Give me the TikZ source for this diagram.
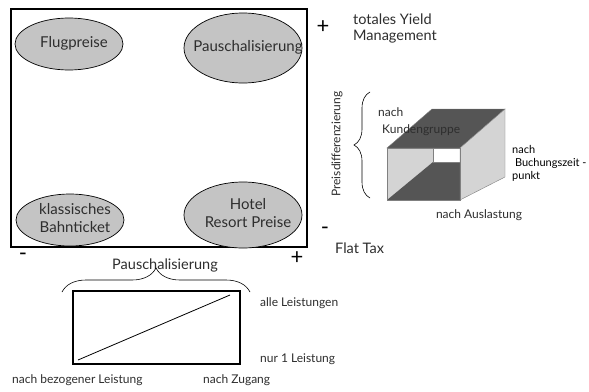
\documentclass[tikz,border=0pt]{standalone}
\usepackage{fontspec}
\setmainfont{Lato}
\usetikzlibrary{decorations.pathreplacing,shapes.geometric}
\definecolor{ellgray}{HTML}{C4C4C4}
\definecolor{darkface}{HTML}{555555}
\definecolor{lightface}{HTML}{D4D4D4}
\definecolor{txt}{HTML}{2E2E2E}
% text set slightly right of the node centre without widening the ellipse
\newcommand\ctrtext[1]{\makebox[0pt]{\hspace{10pt}\begin{tabular}{@{}c@{}}#1\end{tabular}}}
\tikzset{
  ell/.style={ellipse, draw=black, line width=0.7pt, fill=ellgray, text=txt,
    font=\fontsize{15}{17.5}\selectfont, inner sep=0pt},
  sign/.style={font=\fontsize{22}{22}\selectfont, inner sep=0pt},
  lbl/.style={font=\fontsize{12}{14}\selectfont, text=txt, inner sep=0pt},
  midlbl/.style={font=\fontsize{14.5}{16}\selectfont, text=txt, inner sep=0pt},
  bigbrace/.style={decorate, decoration={brace, amplitude=#1}, line width=0.6pt},
  face/.style={draw=gray, line width=0.4pt}
}
\begin{document}
\begin{tikzpicture}[x=1pt, y=-1pt]
\useasboundingbox (0,0) rectangle (589,391);
\fill[white] (0,0) rectangle (589,391);

% price matrix
\node[draw, line width=1.1pt, minimum width=296, minimum height=238, inner sep=0pt] (quad) at (159,128) {};
\node[ell, minimum width=108, minimum height=52] (flug) at (69,44) {\ctrtext{Flugpreise}};
\node[ell, minimum width=118, minimum height=70] (pausch) at (243,48) {\ctrtext{Pauschalisierung}};
\node[ell, minimum width=108, minimum height=52] (bahn) at (70,220) {\ctrtext{klassisches\\Bahnticket}};
\node[ell, minimum width=118, minimum height=66] (hotel) at (243,215) {\ctrtext{Hotel\\Resort Preise}};

\node[sign] (plusY) at (323,27) {+};
\node[sign] (minusY) at (325,231) {-};
\node[sign] (minusX) at (23,257) {-};
\node[sign] (plusX) at (297,258) {+};

\node[midlbl, anchor=north west, align=left] (yield) at (353,14) {totales Yield\\Management};
\node[midlbl, anchor=west] (flat) at (335,248) {Flat Tax};

% horizontal axis: bundling
\node[font=\fontsize{14.5}{16}\selectfont, text=txt] (paxis) at (165,265) {Pauschalisierung};
\coordinate (bl) at (62,292);
\coordinate (br) at (250,292);
\draw[bigbrace=24] (bl) -- (br);

\node[draw, line width=1.1pt, minimum width=167, minimum height=73, inner sep=0pt] (scale) at (156.5,327.5) {};
\coordinate (s0) at (78,360);
\coordinate (s1) at (230,295);
\draw[line width=0.8pt] (s0) -- (s1);
\node[lbl, anchor=west] (alle) at (260,303) {alle Leistungen};
\node[lbl, anchor=west] (nur) at (260,359) {nur 1 Leistung};
\node[lbl, anchor=west] (bez) at (12,380) {nach bezogener Leistung};
\node[lbl, anchor=west] (zug) at (203,380) {nach Zugang};

% price differentiation tube
\coordinate (fTL) at (387,148);
\coordinate (fTR) at (460,148);
\coordinate (fBR) at (460,200);
\coordinate (fBL) at (387,200);
\coordinate (bTL) at (432,109);
\coordinate (bTR) at (505,109);
\coordinate (bBR) at (505,177);
\coordinate (hTL) at (433,148);
\coordinate (hBL) at (433,162);
\coordinate (hBR) at (460,162);
\fill[lightface] (fTL) -- (hTL) -- (hBL) -- (fBL) -- cycle;
\fill[darkface] (fBL) -- (hBL) -- (hBR) -- (fBR) -- cycle;
\fill[white] (hTL) rectangle (hBR);
\filldraw[fill=darkface, face] (fTL) -- (bTL) -- (bTR) -- (fTR) -- cycle;
\filldraw[fill=lightface, face] (fTR) -- (bTR) -- (bBR) -- (fBR) -- cycle;
\draw[face] (fTL) rectangle (fBR);
\draw[face] (hTL) -- (hBL) -- (hBR);

\coordinate (pb0) at (370,198);
\coordinate (pb1) at (370,92);
\draw[bigbrace=16] (pb0) -- (pb1);
\node[lbl, rotate=90] (preis) at (337,144) {Preisdifferenzierung};
\node[lbl, anchor=west] (nach1) at (378,112) {nach};
\node[lbl, anchor=west] (kunde) at (382,130) {Kundengruppe};
\node[lbl, anchor=north west, align=left, text=black, font=\fontsize{11}{13}\selectfont] (buch) at (512,145) {nach\\\ Buchungszeit -\\punkt};
\node[lbl] (ausl) at (479,215) {nach Auslastung};
\end{tikzpicture}
\end{document}
